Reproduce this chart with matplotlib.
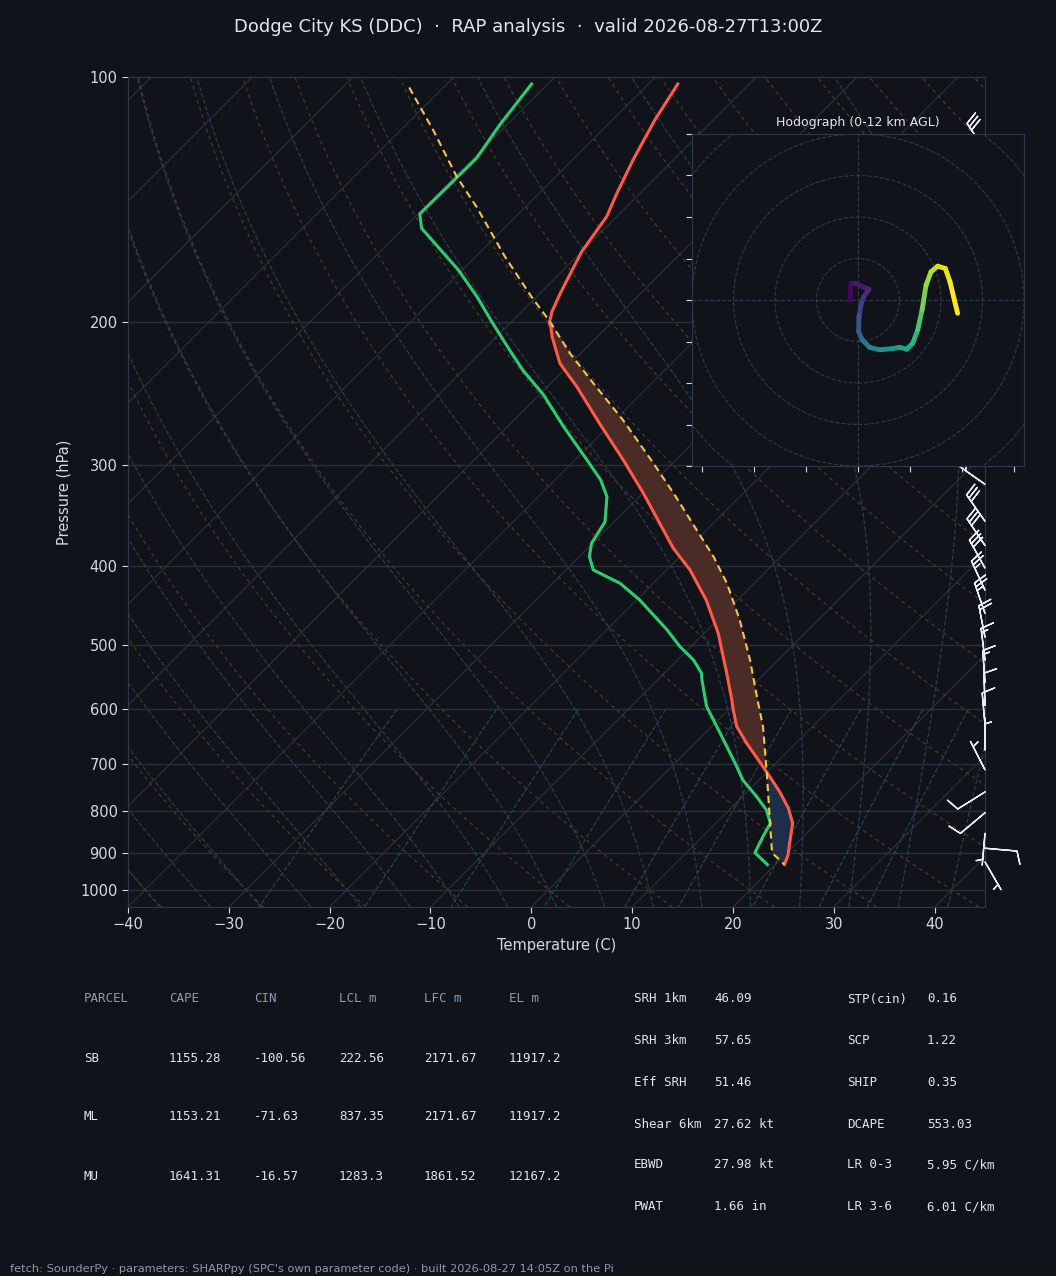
import numpy as np
import matplotlib
matplotlib.use("Agg")
import matplotlib.pyplot as plt
import matplotlib.transforms as mtransforms
from matplotlib.collections import LineCollection

# ── sounding (hPa, degC) ─────────────────────────────────────────────────────
temp_p = [102, 113, 126.5, 139, 148.5, 164, 184.5, 194.4, 201, 203, 208.7, 225,
          240.4, 266.8, 296, 325.3, 357.5, 380, 404, 440, 483.6, 541.5, 584,
          601, 630, 660, 715.6, 757.5, 793.6, 828, 876.5, 906, 931]
temp_c = [-67.1, -65.8, -64.0, -62.3, -61.0, -60.0, -58.0, -57.0, -56.1, -55.6,
          -54.5, -51.1, -47.1, -41.2, -35.2, -29.9, -24.8, -21.5, -17.7, -13.1,
          -8.6, -3.8, -0.65, 0.5, 2.5, 5.1, 9.9, 13.2, 15.7, 17.6, 19.3, 20.3, 20.9]

dewp_p = [102, 114.6, 125.9, 147.4, 153.5, 172.8, 186.4, 201, 216.7, 229.4, 246,
          269, 296, 313, 328.3, 352.5, 374.7, 389, 404, 419.7, 440, 479, 502,
          521.6, 541.5, 551.8, 595, 641.8, 698.6, 732.9, 768, 797.7, 828, 860.6,
          900.5, 931]
dewp_c = [-81.6, -80.7, -79.7, -79.8, -78.2, -70.4, -65.9, -61.7, -57.4, -54.1,
          -49.6, -44.5, -38.8, -35.5, -33.2, -30.9, -30.1, -29.0, -27.3, -23.3,
          -19.7, -14.0, -11.1, -8.4, -6.3, -5.6, -2.5, 1.5, 5.95, 8.4, 11.4,
          13.7, 15.4, 16.0, 16.8, 19.2]

parcel_p = [103, 116.2, 132.7, 144.4, 166.4, 186.4, 200, 218.7, 238.1, 264.3,
            298.7, 325.3, 360.8, 389, 419.7, 465.6, 521.6, 584, 630, 719, 821,
            900.5, 931]
parcel_c = [-93.4, -86.8, -79.8, -74.9, -67.1, -60.5, -56.2, -51.1, -45.8, -39.2,
            -31.9, -26.9, -21.0, -16.7, -12.7, -7.8, -2.8, 1.9, 5.1, 10.1, 15.05,
            18.5, 20.9]

# wind barbs (hPa, direction deg, speed kt)
barb_p = [123, 140, 158, 178, 200, 224, 250, 282, 317, 352, 377, 402, 428, 457,
          489, 522, 556, 593, 627, 673, 712, 758, 804, 852, 889, 924]
barb_dir = [326, 315, 310, 305, 305, 300, 300, 300, 305, 325, 326, 331, 335, 341,
            349, 353, 356, 358, 355, 0, 333, 238, 230, 185, 95, 150]
barb_kt = [30, 30, 30, 30, 35, 35, 30, 30, 30, 30, 30, 30, 25, 25,
           20, 15, 15, 10, 10, 5, 5, 10, 10, 5, 10, 5]

# hodograph (kt) and height (km AGL)
hodo_u = [-1.84, -1.76, -0.64, 2.64, 1.36, 0.8, 0.24, 0.16, 1.04, 2.8, 5.2, 8.4,
          10.0, 11.76, 13.2, 14.4, 15.44, 16.4, 17.6, 19.2, 21.04, 22.16, 24.0]
hodo_v = [0.0, 4.0, 4.0, 2.56, 0.8, -0.8, -4.0, -7.6, -9.6, -11.4, -12.0, -11.7,
          -11.4, -11.84, -10.4, -7.2, -2.4, 3.6, 6.8, 8.16, 7.6, 4.4, -3.2]
hodo_km = [0, 0.2, 0.4, 0.8, 1.4, 1.8, 2.3, 3.0, 3.6, 4.6, 5.4, 6.0, 6.4, 6.8,
           7.2, 7.8, 8.6, 9.5, 10.2, 10.8, 11.3, 11.6, 12.0]

title = "Dodge City KS (DDC)  ·  RAP analysis  ·  valid 2026-08-27T13:00Z"
footer = ("fetch: SounderPy · parameters: SHARPpy (SPC's own parameter code) · "
          "built 2026-08-27 14:05Z on the Pi")

parcel_cols = ["PARCEL", "CAPE", "CIN", "LCL m", "LFC m", "EL m"]
parcel_rows = [["SB", "1155.28", "-100.56", "222.56", "2171.67", "11917.2"],
               ["ML", "1153.21", "-71.63", "837.35", "2171.67", "11917.2"],
               ["MU", "1641.31", "-16.57", "1283.3", "1861.52", "12167.2"]]
kin_labels = ["SRH 1km", "SRH 3km", "Eff SRH", "Shear 6km", "EBWD", "PWAT"]
kin_values = ["46.09", "57.65", "51.46", "27.62 kt", "27.98 kt", "1.66 in"]
thermo_labels = ["STP(cin)", "SCP", "SHIP", "DCAPE", "LR 0-3", "LR 3-6"]
thermo_values = ["0.16", "1.22", "0.35", "553.03", "5.95 C/km", "6.01 C/km"]

# ── colours ──────────────────────────────────────────────────────────────────
BG = "#10141a"
SPINE = "#2e3947"
ISOBAR = "#28303a"
ISOTHERM = "#2b323c"
DRY = "#47392b"
MOIST = "#2d3a47"
MIXING = "#29424c"
TICK = "#d5d9df"
TEXT = "#e2e6eb"
HEAD = "#8d9db2"
FOOT = "#8f99a5"

W, H = 1056, 1276
fig = plt.figure(figsize=(W / 100, H / 100), dpi=100, facecolor=BG)

# ── skew-T axes ──────────────────────────────────────────────────────────────
ax = fig.add_axes([128 / W, 1 - 907 / H, 857 / W, 830 / H], facecolor=BG)
ax.set_yscale("log")
ax.set_ylim(1050, 100)
ax.set_xlim(-40, 45)
ax.set_autoscale_on(False)

# 45 degree skew done in axes space (like MetPy)
k = 830 / 857
skew = (ax.transScale + ax.transLimits
        + mtransforms.Affine2D().skew(np.arctan(k), 0) + ax.transAxes)

p_full = np.geomspace(1050, 100, 200)

# isotherms
for t in range(-160, 50, 10):
    ax.plot([t, t], [1050, 100], color=ISOTHERM, lw=0.8, transform=skew, zorder=1)

# dry adiabats
for t0 in range(-40, 201, 10):
    th = (t0 + 273.15)
    ax.plot(th * (p_full / 1000.0) ** 0.2857 - 273.15, p_full, color=DRY,
            lw=0.9, ls=(0, (3, 3)), transform=skew, zorder=1)

# moist adiabats (RK4 on the pseudo-adiabatic lapse rate)
Rd, Cp, Lv, eps = 287.04, 1005.7, 2.501e6, 0.622


def dtdp(p, tk):
    es = 6.112 * np.exp(17.67 * (tk - 273.15) / (tk - 29.65))
    rs = eps * es / (p - es)
    return (Rd * tk + Lv * rs) / (Cp + Lv * Lv * rs * eps / (Rd * tk * tk)) / p


def integrate(tk, plev):
    out = [tk.copy()]
    for p1, p2 in zip(plev[:-1], plev[1:]):
        h = p2 - p1
        k1 = dtdp(p1, tk)
        k2 = dtdp(p1 + h / 2, tk + h / 2 * k1)
        k3 = dtdp(p1 + h / 2, tk + h / 2 * k2)
        k4 = dtdp(p2, tk + h * k3)
        tk = tk + h / 6 * (k1 + 2 * k2 + 2 * k3 + k4)
        out.append(tk)
    return np.array(out)


moist_t0 = np.arange(-40.0, 46, 5)
p_up = np.linspace(1000, 100, 181)
p_dn = np.linspace(1000, 1050, 11)
up = integrate(moist_t0 + 273.15, p_up)
dn = integrate(moist_t0 + 273.15, p_dn)
for i in range(len(moist_t0)):
    pp = np.concatenate((p_dn[::-1], p_up[1:]))
    tt = np.concatenate((dn[::-1, i], up[1:, i])) - 273.15
    ax.plot(tt, pp, color=MOIST, lw=0.9, ls="--", transform=skew, zorder=1)

# mixing ratio lines
p_mix = np.linspace(600, 1050, 30)
for w in [0.0004, 0.001, 0.002, 0.004, 0.007, 0.01, 0.016, 0.024, 0.032]:
    e = p_mix * w / (eps + w)
    lg = np.log(e / 6.112)
    ax.plot(243.5 * lg / (17.67 - lg), p_mix, color=MIXING, lw=0.9, ls="--",
            transform=skew, zorder=1)

# CAPE / CIN shading
pg = np.geomspace(931, 200, 400)
tg = np.interp(np.log(pg[::-1]), np.log(temp_p), temp_c)[::-1]
pcg = np.interp(np.log(pg[::-1]), np.log(parcel_p), parcel_c)[::-1]
ax.fill_betweenx(pg, tg, pcg, where=pcg >= tg, interpolate=True,
                 facecolor="#4a2b25", edgecolor="none", transform=skew, zorder=2)
ax.fill_betweenx(pg, tg, pcg, where=pcg < tg, interpolate=True,
                 facecolor="#1d2e48", edgecolor="none", transform=skew, zorder=2)

# profiles
ax.plot(temp_c, temp_p, color="#ff5a48", lw=2.2, transform=skew, zorder=4)
ax.plot(dewp_c, dewp_p, color="#2ecc71", lw=2.2, transform=skew, zorder=4)
ax.plot(parcel_c, parcel_p, color="#f5c542", lw=1.5, ls=(0, (3.5, 2.2)),
        transform=skew, zorder=5)

# wind barbs along the right edge
wd = np.radians(barb_dir)
bu = -np.asarray(barb_kt) * np.sin(wd)
bv = -np.asarray(barb_kt) * np.cos(wd)
bt = mtransforms.blended_transform_factory(ax.transAxes, ax.transData)
ax.barbs(np.ones(len(barb_p)), barb_p, bu, bv, transform=bt, clip_on=False,
         length=6.8, color="#e8ebef", linewidth=1.0, zorder=6)

# axes cosmetics
ax.set_yticks([100, 200, 300, 400, 500, 600, 700, 800, 900, 1000],
              labels=["100", "200", "300", "400", "500", "600", "700", "800",
                      "900", "1000"])
ax.yaxis.set_minor_locator(matplotlib.ticker.NullLocator())
ax.set_xticks(range(-40, 41, 10))
ax.yaxis.grid(True, color=ISOBAR, lw=0.9)
ax.set_axisbelow(True)
ax.tick_params(colors=TICK, labelcolor=TICK, labelsize=10.5, length=4, width=0.8)
for s in ax.spines.values():
    s.set_color(SPINE)
ax.set_xlabel("Temperature (C)", color=TICK, fontsize=10.5, labelpad=4)
ax.set_ylabel("Pressure (hPa)", color=TICK, fontsize=10.5, labelpad=6)

# ── hodograph inset ──────────────────────────────────────────────────────────
hx = fig.add_axes([692 / W, 1 - 466 / H, 332 / W, 332 / H], facecolor=BG)
hx.set_xlim(-40, 40)
hx.set_ylim(-40, 40)
for r in range(10, 70, 10):
    hx.add_patch(plt.Circle((0, 0), r, fill=False, ls="--", lw=0.8, ec=SPINE))
hx.axhline(0, color=SPINE, ls="--", lw=0.8)
hx.axvline(0, color=SPINE, ls="--", lw=0.8)
pts = np.column_stack([hodo_u, hodo_v])
segs = np.stack([pts[:-1], pts[1:]], axis=1)
lc = LineCollection(segs, cmap="viridis", norm=plt.Normalize(0, 12),
                    linewidths=3.5, capstyle="round")
lc.set_array(np.asarray(hodo_km[1:]))
hx.add_collection(lc)
hx.set_xticks(np.arange(-37.5, 40, 12.5))
hx.set_yticks(np.arange(-40, 41, 10))
hx.tick_params(labelbottom=False, labelleft=False, colors=TICK, length=4, width=0.8)
for s in hx.spines.values():
    s.set_color(SPINE)
hx.set_title("Hodograph (0-12 km AGL)", color=TEXT, fontsize=9, pad=6)

# ── title, tables, footer ────────────────────────────────────────────────────
fig.text(0.5, 1 - 27 / H, title, ha="center", va="center", color=TEXT, fontsize=13)

mono = dict(family="DejaVu Sans Mono", fontsize=9, va="center")
col_x = [84, 169, 254, 339, 424, 509]
row_y = [999, 1058, 1117, 1176]
for cx, name in zip(col_x, parcel_cols):
    fig.text(cx / W, 1 - row_y[0] / H, name, color=HEAD, **mono)
for ry, row in zip(row_y[1:], parcel_rows):
    for cx, val in zip(col_x, row):
        fig.text(cx / W, 1 - ry / H, val, color=TEXT, **mono)

idx_y = [999, 1041, 1083, 1124, 1165, 1207]
for ry, a, b, c, d in zip(idx_y, kin_labels, kin_values, thermo_labels, thermo_values):
    fig.text(634 / W, 1 - ry / H, a, color=TEXT, **mono)
    fig.text(714 / W, 1 - ry / H, b, color=TEXT, **mono)
    fig.text(847 / W, 1 - ry / H, c, color=TEXT, **mono)
    fig.text(927 / W, 1 - ry / H, d, color=TEXT, **mono)

fig.text(10 / W, 1 - 1269 / H, footer, ha="left", va="center", color=FOOT, fontsize=8.2)

fig.savefig("out.png", dpi=100, facecolor=BG)
